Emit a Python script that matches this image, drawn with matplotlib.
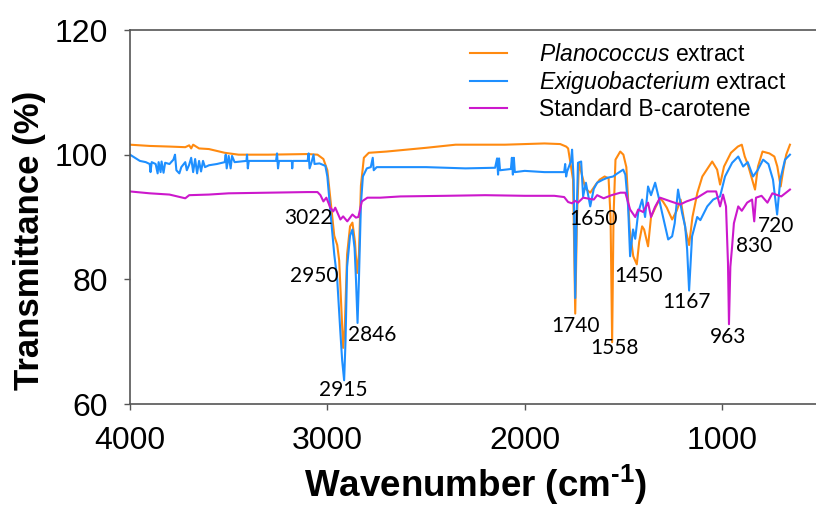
import matplotlib
matplotlib.use("Agg")
import matplotlib.pyplot as plt

# FTIR spectra (wavenumber cm-1, transmittance %)
plano_wn = [4000, 3900, 3800, 3720, 3700, 3690, 3680, 3650, 3600, 3520, 3450, 3300,
            3100, 3050, 3020, 3000, 2985, 2965, 2950, 2940, 2930, 2920, 2912, 2900,
            2885, 2873, 2860, 2850, 2840, 2830, 2815, 2790, 2700, 2500, 2350, 2100,
            1900, 1820, 1790, 1780, 1770, 1755, 1744, 1735, 1725, 1712, 1700, 1690,
            1668, 1655, 1640, 1620, 1595, 1575, 1565, 1557, 1550, 1540, 1516, 1500,
            1485, 1468, 1450, 1432, 1420, 1405, 1395, 1375, 1360, 1335, 1314, 1300,
            1280, 1253, 1230, 1210, 1185, 1167, 1150, 1125, 1100, 1050, 1025, 1010,
            990, 955, 920, 900, 885, 870, 833, 818, 795, 760, 735, 720, 703, 690,
            675, 656]
plano_t = [101.6, 101.4, 101.3, 101.2, 101.5, 101.0, 101.6, 101.0, 100.9, 100.3, 100.0, 100.0,
           100.1, 100.0, 99.3, 97.5, 93.0, 87.0, 85.5, 83.0, 76.0, 69.0, 72.0, 84.0,
           88.5, 89.1, 86.0, 81.0, 84.0, 95.0, 99.5, 100.3, 100.5, 101.1, 101.6, 101.6,
           101.8, 101.7, 101.3, 101.0, 99.0, 96.0, 74.5, 90.0, 98.7, 97.0, 95.5, 94.5,
           93.9, 94.5, 95.2, 96.0, 96.5, 96.2, 90.0, 69.9, 90.0, 99.2, 100.5, 100.0,
           98.0, 88.0, 83.7, 82.4, 86.0, 88.5, 88.0, 85.3, 90.0, 91.7, 93.0, 92.5,
           91.5, 89.6, 91.0, 92.8, 88.0, 85.5, 90.0, 93.9, 96.5, 98.9, 97.6, 95.2,
           98.1, 100.3, 101.3, 101.6, 99.7, 98.5, 94.4, 98.1, 100.5, 100.2, 99.7, 98.1, 94.9, 97.5,
           100.0, 101.6]

exig_wn = [4000, 3980, 3950, 3920, 3900, 3896, 3890, 3870, 3860, 3855, 3845, 3840,
           3830, 3822, 3800, 3780, 3772, 3765, 3750, 3740, 3720, 3712, 3700, 3690,
           3680, 3670, 3660, 3650, 3640, 3630, 3620, 3600, 3560, 3520, 3515, 3510,
           3500, 3490, 3483, 3470, 3410, 3407, 3403, 3398, 3260, 3255, 3250, 3245,
           3180, 3178, 3175, 3100, 3095, 3090, 3080, 3070, 3065, 3040, 3010, 3000,
           2985, 2965, 2950, 2935, 2925, 2915, 2908, 2900, 2885, 2873, 2862, 2855,
           2847, 2840, 2830, 2820, 2800, 2780, 2770, 2765, 2750, 2700, 2500, 2300,
           2150, 2140, 2135, 2130, 2125, 2070, 2065, 2060, 2055, 2050, 2000, 1900,
           1800, 1795, 1790, 1785, 1765, 1760, 1752, 1744, 1737, 1730, 1714, 1704,
           1690, 1668, 1650, 1633, 1603, 1580, 1552, 1530, 1501, 1490, 1476, 1466,
           1451, 1440, 1425, 1405, 1390, 1375, 1360, 1339, 1320, 1304, 1288, 1273,
           1253, 1240, 1223, 1203, 1187, 1177, 1167, 1152, 1126, 1110, 1075, 1045,
           1010, 985, 949, 918, 893, 870, 843, 820, 792, 765, 742, 721, 705, 681,
           656]
exig_t = [100.0, 99.6, 99.0, 98.8, 98.5, 97.2, 98.8, 98.5, 97.0, 98.8, 97.2, 98.9,
          97.1, 98.7, 98.5, 99.2, 100.0, 97.5, 97.0, 98.0, 98.8, 97.5, 98.4, 99.5,
          97.2, 99.3, 97.0, 99.0, 97.3, 99.0, 98.0, 98.3, 98.5, 98.8, 100.0, 97.8,
          99.8, 97.8, 99.8, 98.8, 99.0, 100.0, 97.8, 99.0, 99.0, 100.2, 97.8, 99.0,
          99.0, 97.8, 99.0, 99.0, 100.2, 97.8, 98.8, 100.0, 98.5, 98.6, 98.2, 96.5,
          91.0, 84.0, 80.0, 72.0, 67.0, 63.8, 70.0, 82.0, 87.0, 88.0, 85.0, 80.0,
          73.0, 80.0, 92.0, 96.5, 97.8, 98.0, 99.5, 97.5, 98.0, 98.0, 98.0, 97.8,
          97.9, 99.4, 96.8, 99.4, 97.5, 97.7, 99.5, 96.8, 99.5, 97.2, 97.4, 97.2,
          97.2, 98.5, 96.5, 97.3, 99.0, 100.8, 96.0, 77.0, 90.0, 98.7, 98.9, 93.3,
          95.5, 91.7, 94.5, 95.5, 96.0, 96.3, 96.5, 97.0, 97.6, 96.8, 91.7, 83.7,
          88.0, 86.5, 90.7, 92.8, 90.0, 94.9, 93.5, 95.5, 93.0, 90.7, 88.5, 86.4,
          86.9, 89.0, 94.4, 90.7, 88.5, 84.8, 78.2, 86.9, 90.0, 89.5, 91.7, 92.8,
          93.3, 96.5, 98.7, 99.7, 98.1, 98.8, 96.5, 97.5, 99.2, 98.5, 96.0, 90.4, 96.0, 99.2,
          100.0]

carot_wn = [4000, 3900, 3800, 3720, 3700, 3600, 3500, 3300, 3100, 3050, 3035, 3020,
            3005, 2985, 2970, 2960, 2934, 2920, 2899, 2873, 2855, 2843, 2825, 2797,
            2732, 2630, 2400, 2200, 2000, 1850, 1800, 1780, 1760, 1745, 1730, 1704,
            1650, 1633, 1600, 1560, 1515, 1490, 1466, 1440, 1425, 1400, 1375, 1360,
            1340, 1314, 1260, 1213, 1180, 1126, 1075, 1030, 1010, 995, 980, 970,
            965, 958, 949, 940, 918, 900, 873, 848, 837, 828, 800, 770, 745, 700,
            656]
carot_t = [94.1, 93.8, 93.6, 93.0, 93.5, 93.6, 93.8, 93.9, 94.0, 94.0, 93.5, 92.5,
           93.1, 91.5, 90.9, 91.5, 89.6, 90.1, 89.3, 90.4, 89.9, 90.0, 92.5, 93.1,
           93.1, 93.3, 93.4, 93.5, 93.4, 93.4, 93.2, 92.4, 92.2, 92.6, 92.3, 93.1,
           92.8, 93.5, 93.0, 93.5, 93.9, 93.9, 91.2, 90.0, 91.2, 90.8, 92.3, 90.0,
           91.6, 93.1, 92.5, 92.0, 92.5, 93.1, 94.1, 94.1, 91.7, 93.6, 91.7, 82.6,
           72.8, 82.0, 85.3, 89.0, 91.7, 91.0, 92.3, 92.8, 89.3, 93.1, 93.4, 92.3, 93.8, 93.3,
           94.4]

peak_labels = ["3022", "2950", "2846", "2915", "1650", "1740", "1558", "1450",
               "1167", "963", "830", "720"]
peak_x = [3096, 3066, 2772, 2919, 1653, 1745, 1547, 1425, 1182, 970, 838, 727]
peak_y = [89.8, 80.6, 71.0, 62.2, 89.6, 72.5, 69.0, 80.6, 76.3, 70.7, 85.4, 88.6]

plt.rcParams["font.family"] = ["Liberation Sans", "DejaVu Sans"]
plt.rcParams["mathtext.fontset"] = "custom"
plt.rcParams["mathtext.rm"] = "Liberation Sans:bold"
plt.rcParams["mathtext.it"] = "Liberation Sans:italic"
plt.rcParams["mathtext.bf"] = "Liberation Sans:bold"

fig = plt.figure(figsize=(8.16, 5.07), dpi=100)
ax = fig.add_axes([130 / 816, 1 - 404 / 507, 1 - 130 / 816, (404 - 30) / 507])

ax.plot(plano_wn, plano_t, color="#ff8a10", lw=1.5, label=r"$\it{Planococcus}$ extract")
ax.plot(exig_wn, exig_t, color="#1e8fff", lw=1.5, label=r"$\it{Exiguobacterium}$ extract")
ax.plot(carot_wn, carot_t, color="#cc18cc", lw=1.5, label="Standard B-carotene")

for lab, x, y in zip(peak_labels, peak_x, peak_y):
    ax.text(x, y, lab, ha="center", va="center", fontsize=15, family=["Lato", "DejaVu Sans"])

ax.set_xlim(4000, 524)
ax.set_ylim(60, 120)
ax.set_xticks([4000, 3000, 2000, 1000])
ax.set_yticks([60, 80, 100, 120])
ax.tick_params(labelsize=23, length=4, width=1, color="#555555")
ax.tick_params(axis="y", pad=12)
ax.tick_params(axis="x", pad=12)
ax.spines["right"].set_visible(False)
for s in ["top", "left", "bottom"]:
    ax.spines[s].set_color("#555555")
    ax.spines[s].set_linewidth(1.2)

fig.text(30 / 816, 1 - 240 / 507, "Transmittance (%)", rotation=90, ha="center",
         va="center", fontsize=25, fontweight="bold")
fig.text(475 / 816, 1 - 485 / 507, r"Wavenumber (cm$^{\text{-}1}$)", ha="center",
         va="center", fontsize=26.5, fontweight="bold")

ax.legend(loc="upper left", bbox_to_anchor=(470 / 816, 1 - 43 / 507),
          bbox_transform=fig.transFigure, frameon=False, fontsize=16.5,
          handlelength=1.6, handletextpad=1.4, labelspacing=0.12,
          borderpad=0, borderaxespad=0)

fig.savefig("out.png", dpi=100)
